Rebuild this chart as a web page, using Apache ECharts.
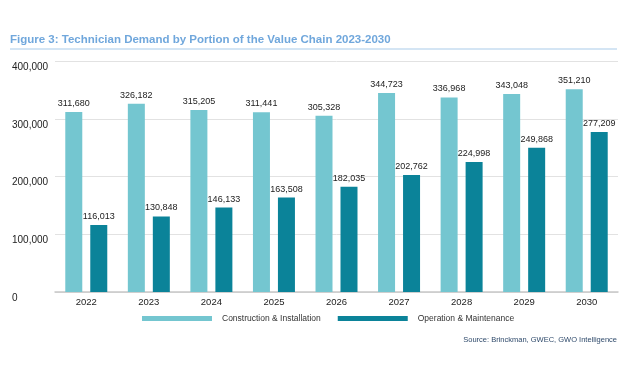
<!DOCTYPE html>
<html>
<head>
<meta charset="utf-8">
<script src="https://cdn.jsdelivr.net/npm/echarts@6/dist/echarts.min.js"></script>
<style>
  html, body { margin: 0; padding: 0; background: #fff; }
  #main { width: 627px; height: 376px; }
</style>
</head>
<body>
<div id="main"></div>
<script>
// 数据
const years = ["2022", "2023", "2024", "2025", "2026", "2027", "2028", "2029", "2030"];
const constructionInstall = [311680, 326182, 315205, 311441, 305328, 344723, 336968, 343048, 351210];
const operationMaint = [116013, 130848, 146133, 163508, 182035, 202762, 224998, 249868, 277209];
const seriesNames = ["Construction & Installation", "Operation & Maintenance"];

const chart = echarts.init(document.getElementById("main"));
const fontFamily = "'Liberation Sans', Arial, sans-serif";

// 柱子顶部数值
const barLabel = {
  show: true,
  position: "top",
  distance: 4,
  color: "#222",
  fontSize: 9,
  fontFamily: fontFamily,
  formatter: (p) => p.value.toLocaleString("en-US"),
};

const option = {
  backgroundColor: "#fff",
  textStyle: { fontFamily: fontFamily },
  graphic: [
    {
      type: "text",
      left: 10,
      top: 34,
      style: {
        text: "Figure 3: Technician Demand by Portion of the Value Chain 2023-2030",
        fill: "#70a7dc",
        font: "bold 11.5px " + fontFamily,
      },
    },
    {
      type: "line",
      shape: { x1: 10, y1: 49, x2: 617, y2: 49 },
      style: { stroke: "#c6dcf1", lineWidth: 1.5 },
    },
    {
      type: "text",
      right: 10,
      top: 336,
      style: {
        text: "Source: Brinckman, GWEC, GWO Intelligence",
        fill: "#2f4a6b",
        font: "7.5px " + fontFamily,
      },
    },
  ],
  legend: {
    data: seriesNames,
    left: 142,
    top: 314,
    padding: 0,
    icon: "rect",
    itemWidth: 70,
    itemHeight: 5,
    itemGap: 17,
    textStyle: { color: "#333", fontSize: 8.5, fontFamily: fontFamily, padding: [0, 0, 0, 5] },
  },
  grid: { left: 55, right: 9, top: 61, bottom: 84 },
  xAxis: {
    type: "category",
    data: years,
    axisTick: { show: false },
    axisLine: { lineStyle: { color: "#c8c8c8", width: 1.5 } },
    axisLabel: { color: "#222", fontSize: 9.5, margin: 5 },
  },
  yAxis: {
    type: "value",
    min: 0,
    max: 400000,
    interval: 100000,
    axisLabel: {
      color: "#222",
      fontSize: 10,
      align: "left",
      verticalAlign: "top",
      margin: 43,
      padding: [1, 0, 0, 0],
      formatter: (v) => v.toLocaleString("en-US"),
    },
    splitLine: { lineStyle: { color: "#e2e2e2" } },
  },
  series: [
    {
      name: seriesNames[0],
      type: "bar",
      data: constructionInstall,
      barWidth: 17,
      barGap: "47%",
      itemStyle: { color: "#74c6d0" },
      label: barLabel,
    },
    {
      name: seriesNames[1],
      type: "bar",
      data: operationMaint,
      barWidth: 17,
      itemStyle: { color: "#0b8399" },
      label: barLabel,
    },
  ],
};

chart.setOption(option);
</script>
</body>
</html>
